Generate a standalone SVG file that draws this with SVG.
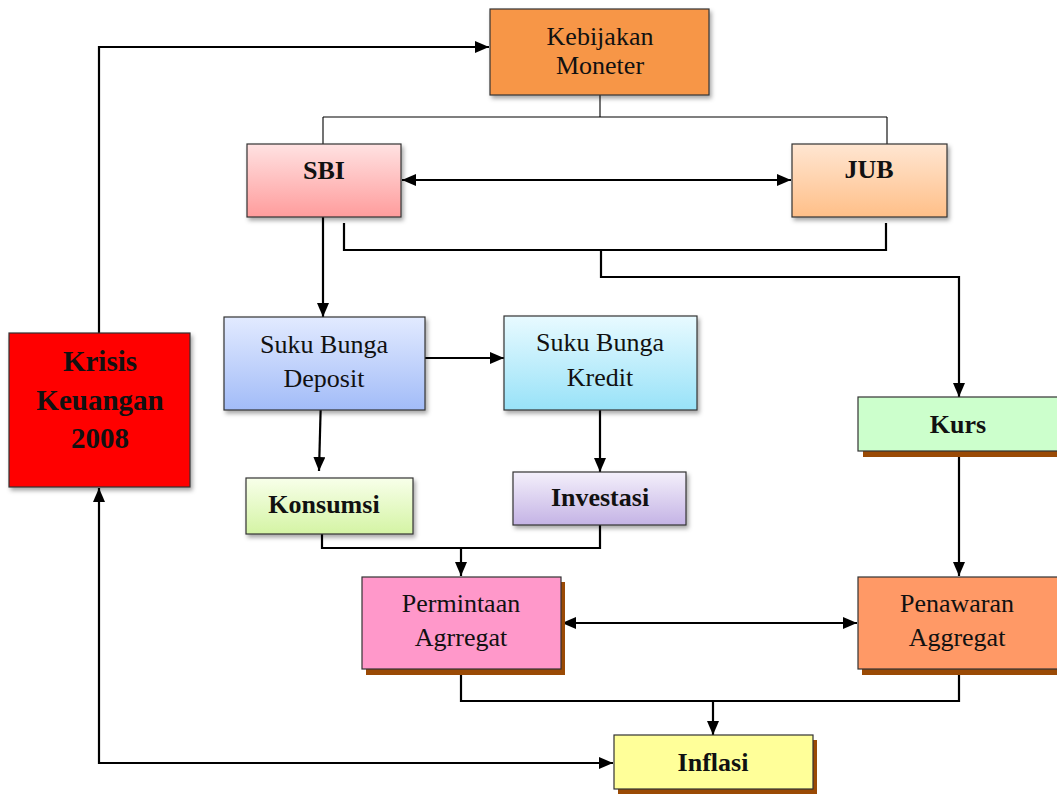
<svg xmlns="http://www.w3.org/2000/svg" width="1057" height="794" viewBox="0 0 1057 794">
<defs>
<style>
.t{font-family:"Liberation Serif","Times New Roman",serif;font-size:26px;fill:#111;text-anchor:middle}
.b{font-weight:bold}
.box{stroke:#333;stroke-width:1.2}
.ln{fill:none;stroke:#000;stroke-width:2.2}
.thin{fill:none;stroke:#000;stroke-width:1.1}
.sh{fill:#9A4A05}
</style>
<marker id="ah" viewBox="0 0 14 12" refX="14" refY="6" markerWidth="14" markerHeight="12" markerUnits="userSpaceOnUse" orient="auto-start-reverse">
<path d="M0,0 L14,6 L0,12 z" fill="#000"/>
</marker>
<filter id="ds" x="-10%" y="-10%" width="130%" height="140%">
<feDropShadow dx="2" dy="3" stdDeviation="2" flood-color="#000" flood-opacity="0.35"/>
</filter>
<linearGradient id="gSBI" x1="0" y1="0" x2="0" y2="1"><stop offset="0" stop-color="#FFE2E2"/><stop offset="1" stop-color="#FF9C9C"/></linearGradient>
<linearGradient id="gJUB" x1="0" y1="0" x2="0" y2="1"><stop offset="0" stop-color="#FFE6D2"/><stop offset="1" stop-color="#FFBF88"/></linearGradient>
<linearGradient id="gDep" x1="0" y1="0" x2="0" y2="1"><stop offset="0" stop-color="#E2EAFF"/><stop offset="1" stop-color="#A2BCF8"/></linearGradient>
<linearGradient id="gKre" x1="0" y1="0" x2="0" y2="1"><stop offset="0" stop-color="#E8FAFF"/><stop offset="1" stop-color="#98E2F8"/></linearGradient>
<linearGradient id="gKon" x1="0" y1="0" x2="0" y2="1"><stop offset="0" stop-color="#F8FFEA"/><stop offset="1" stop-color="#D4F4A4"/></linearGradient>
<linearGradient id="gInv" x1="0" y1="0" x2="0" y2="1"><stop offset="0" stop-color="#F4F0FB"/><stop offset="1" stop-color="#C4B3E5"/></linearGradient>
</defs>
<rect width="1057" height="794" fill="#fff"/>

<g id="connectors">
<path class="thin" d="M600,95 V117 M323,117 H887 M323,117 V144 M887,117 V144"/>
<path class="ln" d="M99,333 V47 H489" marker-end="url(#ah)"/>
<path class="ln" d="M402,180 H791" marker-start="url(#ah)" marker-end="url(#ah)"/>
<path class="ln" d="M323,217 V317" marker-end="url(#ah)"/>
<path class="ln" d="M344,223 V250 H886 V223"/>
<path class="ln" d="M601,250 V277 H959 V397" marker-end="url(#ah)"/>
<path class="ln" d="M425,358 H504" marker-end="url(#ah)"/>
<path class="ln" d="M321,396 L319,471" marker-end="url(#ah)"/>
<path class="ln" d="M600,398 V472" marker-end="url(#ah)"/>
<path class="ln" d="M322,523 V548 H600 V520"/>
<path class="ln" d="M461,548 V576" marker-end="url(#ah)"/>
<path class="ln" d="M959,451 V576" marker-end="url(#ah)"/>
<path class="ln" d="M562,623 H857" marker-start="url(#ah)" marker-end="url(#ah)"/>
<path class="ln" d="M461,669 V701 H959 V669"/>
<path class="ln" d="M713,701 V735" marker-end="url(#ah)"/>
<path class="ln" d="M99,488 V763 H613" marker-start="url(#ah)" marker-end="url(#ah)"/>
</g>

<g id="kebijakan">
<rect class="box" x="490" y="9" width="219" height="86" fill="#F79646" filter="url(#ds)"/>
<text class="t" x="600" y="45">Kebijakan</text>
<text class="t" x="600" y="74">Moneter</text>
</g>

<g id="sbi">
<rect class="box" x="247" y="144" width="154" height="73" fill="url(#gSBI)" filter="url(#ds)"/>
<text class="t b" x="324" y="179">SBI</text>
</g>

<g id="jub">
<rect class="box" x="792" y="144" width="155" height="73" fill="url(#gJUB)" filter="url(#ds)"/>
<text class="t b" x="869" y="178">JUB</text>
</g>

<g id="deposit">
<rect class="box" x="224" y="317" width="201" height="93" fill="url(#gDep)" filter="url(#ds)"/>
<text class="t" x="324" y="353">Suku Bunga</text>
<text class="t" x="324" y="387">Deposit</text>
</g>

<g id="kredit">
<rect class="box" x="504" y="316" width="193" height="94" fill="url(#gKre)" filter="url(#ds)"/>
<text class="t" x="600" y="351">Suku Bunga</text>
<text class="t" x="600" y="386">Kredit</text>
</g>

<g id="konsumsi">
<rect class="box" x="246" y="478" width="167" height="56" fill="url(#gKon)" filter="url(#ds)"/>
<text class="t b" x="324" y="513">Konsumsi</text>
</g>

<g id="investasi">
<rect class="box" x="513" y="472" width="173" height="53" fill="url(#gInv)" filter="url(#ds)"/>
<text class="t b" x="600" y="506">Investasi</text>
</g>

<g id="kurs">
<rect class="sh" x="863" y="403" width="200" height="54"/>
<rect class="box" x="858" y="397" width="200" height="54" fill="#CCFFCC"/>
<text class="t b" x="958" y="433">Kurs</text>
</g>

<g id="permintaan">
<rect class="sh" x="366" y="582" width="199" height="93"/>
<rect class="box" x="362" y="577" width="199" height="92" fill="#FF98CA"/>
<text class="t" x="461" y="612">Permintaan</text>
<text class="t" x="461" y="646">Agrregat</text>
</g>

<g id="penawaran">
<rect class="sh" x="862" y="582" width="200" height="93"/>
<rect class="box" x="858" y="577" width="200" height="92" fill="#FF9966"/>
<text class="t" x="957" y="612">Penawaran</text>
<text class="t" x="957" y="646">Aggregat</text>
</g>

<g id="inflasi">
<rect class="sh" x="618" y="740" width="199" height="54"/>
<rect class="box" x="614" y="735" width="199" height="54" fill="#FFFF99"/>
<text class="t b" x="713" y="771">Inflasi</text>
</g>

<g id="krisis">
<rect class="box" x="9" y="333" width="181" height="154" fill="#FF0000" filter="url(#ds)"/>
<text class="t b" x="100" y="371" style="font-size:29px">Krisis</text>
<text class="t b" x="100" y="410" style="font-size:29px">Keuangan</text>
<text class="t b" x="100" y="448" style="font-size:29px">2008</text>
</g>
</svg>
